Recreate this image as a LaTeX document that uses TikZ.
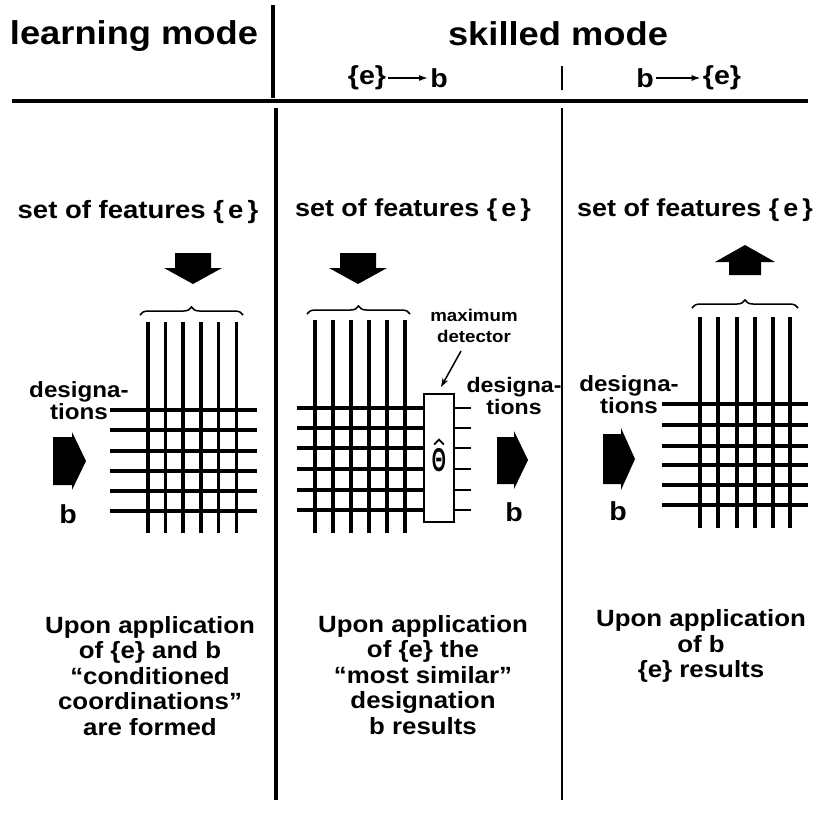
\documentclass[tikz,border=0pt]{standalone}
\usepackage{fontspec}
\setmainfont[FakeStretch=1.1]{Liberation Sans}
\usetikzlibrary{decorations.pathreplacing,arrows.meta}
\begin{document}
\begin{tikzpicture}[x=1pt,y=-1pt,
  txt/.style={inner sep=0pt,font=\bfseries\fontsize{#1}{#1}\selectfont},
  para/.style={inner sep=0pt,align=center,font=\bfseries\fontsize{23.5}{25.5}\selectfont},
  gridline/.style={line width=3.6pt},
  thickrule/.style={line width=3.6pt},
  thinrule/.style={line width=1.8pt},
  headarrow/.style={line width=1.6pt,-{Latex[length=9pt,width=6pt]}},
  bracestyle/.style={line width=1.5pt,decorate,decoration={brace,amplitude=8pt}},
  blockarrow/.style={fill=black,draw=none}]
\useasboundingbox (0,0) rectangle (829,815);
% header
\node[txt=33] (learn) at (134,36) {learning mode};
\node[txt=33] (skilled) at (558,34) {skilled mode};
\node[txt=26] (e1) at (367,78) {\{e\}};
\node[txt=26] (b1) at (439,78) {b};
\draw[headarrow] ([xshift=2pt]e1.east) -- ([xshift=-2pt]b1.west);
\node[txt=26] (b2) at (645,78) {b};
\node[txt=26] (e2) at (722,78) {\{e\}};
\draw[headarrow] ([xshift=2pt]b2.east) -- ([xshift=-2pt]e2.west);
\draw[thickrule] (273,5) -- (273,98);
\draw[thinrule] (562,66) -- (562,90);
\draw[thickrule] (12,101) -- (808,101);
\draw[thickrule] (276,108) -- (276,800);
\draw[thinrule] (562,108) -- (562,800);

% ---------- panel 1: learning mode
\node[txt=25] (f1) at (138,212) {set of features \{\,e\,\}};
\fill[blockarrow] (175,253) -- (211,253) -- (211,268) -- (222,268) -- (193,284) -- (164,268) -- (175,268) -- cycle;
\draw[bracestyle] (140,315) -- (243,315);
\foreach \x in {148,165.5,183,201,218.5,236.5} \draw[gridline] (\x,322) -- (\x,533);
\foreach \y in {410,430,451,471,491,511} \draw[gridline] (110,\y) -- (257,\y);
\node[para,font=\bfseries\fontsize{22}{22}\selectfont] (d1) at (79,401) {designa-\\tions};
\fill[blockarrow] (53,437) -- (72,437) -- (72,432) -- (86,461) -- (72,490) -- (72,485) -- (53,485) -- cycle;
\node[txt=26] (bl1) at (68,514) {b};
\node[para] (t1) at (150,676) {Upon application\\of \{e\} and  b\\“conditioned\\coordinations”\\are formed};

% ---------- panel 2: skilled, {e} -> b
\node[txt=24.5] (f2) at (413,210) {set of features \{\,e\,\}};
\fill[blockarrow] (340,253) -- (376,253) -- (376,268) -- (387,268) -- (358,284) -- (329,268) -- (340,268) -- cycle;
\draw[bracestyle] (307,314) -- (410,314);
\foreach \x in {315,333,351,369,387,405} \draw[gridline] (\x,320) -- (\x,533);
\foreach \y in {408,428,448,469,490,510} {
  \draw[gridline] (297,\y) -- (425,\y);
  \draw[line width=2.2pt] (453,\y) -- (471,\y);
}
\node[draw,line width=2.8pt,fill=white,minimum width=30pt,minimum height=128pt,inner sep=0pt] (maxbox) at (439,458) {};
\node[inner sep=0pt,font=\bfseries\fontsize{33}{33}\selectfont] (theta) at (439,460) {\scalebox{0.5}[1]{Θ}};
\draw[line width=1.8pt,line cap=round] ([xshift=-4.5pt,yshift=4pt]theta.north) -- ([yshift=8.5pt]theta.north) -- ([xshift=4.5pt,yshift=4pt]theta.north);
\node[para,font=\bfseries\fontsize{17}{20.5}\selectfont] (maxlbl) at (474,326) {maximum\\detector};
\coordinate (ptrstart) at (461,351);
\coordinate (ptrend) at (441,387);
\draw[line width=1.5pt,-{Stealth[length=9pt,width=6pt]}] (ptrstart) -- (ptrend);
\node[para,font=\bfseries\fontsize{21}{22}\selectfont] (d2) at (514,396) {designa-\\tions};
\fill[blockarrow] (497,437) -- (514,437) -- (514,431) -- (528,460) -- (514,489) -- (514,484) -- (497,484) -- cycle;
\node[txt=26] (bl2) at (514,512) {b};
\node[para] (t2) at (423,675) {Upon application\\of \{e\} the\\“most similar”\\designation\\b results};

% ---------- panel 3: skilled, b -> {e}
\node[txt=24.5] (f3) at (695,210) {set of features \{\,e\,\}};
\fill[blockarrow] (729,275) -- (761,275) -- (761,262) -- (775,262) -- (745,245) -- (715,262) -- (729,262) -- cycle;
\draw[bracestyle] (692,308) -- (798,308);
\foreach \x in {700,718,737,755,773,790} \draw[gridline] (\x,317) -- (\x,528);
\foreach \y in {404,425,446,465,485,505} \draw[gridline] (662,\y) -- (808,\y);
\node[para,font=\bfseries\fontsize{22}{22}\selectfont] (d3) at (629,395) {designa-\\tions};
\fill[blockarrow] (603,434) -- (621,434) -- (621,428) -- (635,459) -- (621,490) -- (621,484) -- (603,484) -- cycle;
\node[txt=26] (bl3) at (618,511) {b};
\node[para] (t3) at (701,646) {Upon application\\of  b\\\{e\} results};
\end{tikzpicture}
\end{document}
